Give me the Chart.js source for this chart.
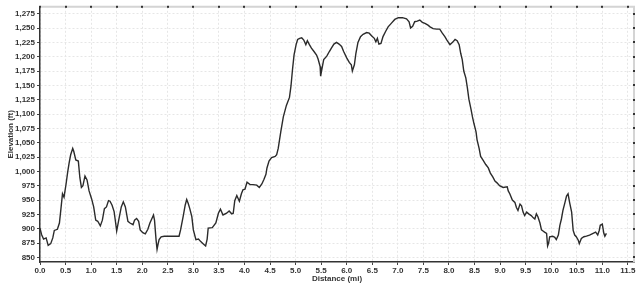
<!DOCTYPE html>
<html>
<head>
<meta charset="utf-8">
<script src="https://cdn.jsdelivr.net/npm/chart.js@4/dist/chart.umd.min.js"></script>
<style>
  html, body { margin: 0; padding: 0; background: #fff; }
</style>
</head>
<body>
<canvas id="elevationChart" width="640" height="288"></canvas>
<script>
const distanceMi = [
  0.00, 0.03, 0.07, 0.12, 0.16, 0.21, 0.25, 0.28, 0.34, 0.38, 0.41, 0.44, 0.47, 0.51, 0.54, 0.57, 0.60, 0.64, 0.66, 0.70,
  0.75, 0.78, 0.81, 0.84, 0.88, 0.92, 0.96, 1.01, 1.05, 1.09, 1.13, 1.18, 1.22, 1.26, 1.30, 1.34, 1.37, 1.41, 1.45, 1.48,
  1.50, 1.54, 1.59, 1.63, 1.67, 1.72, 1.76, 1.82, 1.85, 1.89, 1.93, 1.96, 2.01, 2.06, 2.11, 2.15, 2.19, 2.22, 2.24, 2.27,
  2.29, 2.31, 2.33, 2.37, 2.43, 2.72, 2.75, 2.80, 2.84, 2.87, 2.90, 2.93, 2.97, 3.00, 3.05, 3.10, 3.14, 3.19, 3.24, 3.27,
  3.29, 3.37, 3.44, 3.49, 3.53, 3.58, 3.65, 3.70, 3.75, 3.78, 3.81, 3.85, 3.88, 3.90, 3.94, 3.97, 4.01, 4.05, 4.11, 4.17,
  4.24, 4.29, 4.34, 4.38, 4.42, 4.44, 4.48, 4.53, 4.60, 4.63, 4.66, 4.71, 4.76, 4.82, 4.88, 4.91, 4.94, 4.97, 5.01, 5.04,
  5.08, 5.12, 5.16, 5.20, 5.23, 5.27, 5.31, 5.36, 5.41, 5.44, 5.48, 5.49, 5.52, 5.55, 5.61, 5.66, 5.70, 5.75, 5.80, 5.85,
  5.90, 5.94, 6.00, 6.05, 6.09, 6.11, 6.15, 6.18, 6.22, 6.27, 6.32, 6.39, 6.44, 6.49, 6.54, 6.57, 6.60, 6.63, 6.67, 6.71,
  6.76, 6.81, 6.88, 6.94, 7.01, 7.09, 7.17, 7.22, 7.25, 7.29, 7.33, 7.38, 7.43, 7.48, 7.53, 7.59, 7.63, 7.69, 7.76, 7.82,
  7.87, 7.92, 7.96, 8.02, 8.07, 8.12, 8.16, 8.20, 8.23, 8.26, 8.29, 8.33, 8.36, 8.39, 8.43, 8.46, 8.49, 8.53, 8.55, 8.59,
  8.62, 8.67, 8.72, 8.77, 8.81, 8.86, 8.90, 8.94, 8.99, 9.06, 9.14, 9.16, 9.19, 9.24, 9.29, 9.32, 9.35, 9.39, 9.42, 9.45,
  9.48, 9.52, 9.56, 9.61, 9.65, 9.68, 9.71, 9.74, 9.78, 9.81, 9.84, 9.87, 9.91, 9.93, 9.95, 9.97, 10.03, 10.07, 10.10, 10.14,
  10.17, 10.20, 10.23, 10.27, 10.30, 10.33, 10.36, 10.40, 10.43, 10.46, 10.49, 10.53, 10.55, 10.59, 10.64, 10.69, 10.75, 10.82, 10.87, 10.91,
  10.94, 10.96, 11.00, 11.03, 11.05, 11.08
];
const elevationFt = [
  901, 890, 882, 884, 871, 874, 884, 897, 899, 910, 935, 961, 955, 978, 998, 1015, 1029, 1040, 1035, 1020,
  1018, 989, 972, 975, 992, 985, 966, 952, 938, 915, 913, 905, 915, 935, 938, 949, 948, 941, 930, 910,
  896, 915, 938, 947, 938, 913, 910, 907, 915, 918, 913, 898, 893, 891, 899, 910, 918, 924, 915, 881,
  864, 873, 881, 886, 887, 887, 898, 921, 941, 951, 944, 935, 921, 898, 881, 882, 878, 874, 870, 882,
  901, 902, 910, 927, 934, 924, 927, 931, 926, 927, 949, 958, 952, 948, 961, 968, 969, 981, 977, 977,
  976, 972, 978, 986, 995, 1006, 1018, 1024, 1026, 1029, 1040, 1069, 1095, 1115, 1129, 1149, 1178, 1203, 1221, 1230,
  1232, 1233, 1229, 1221, 1228, 1221, 1215, 1209, 1203, 1196, 1183, 1166, 1181, 1195, 1201, 1209, 1215, 1222, 1225, 1222,
  1218, 1209, 1198, 1190, 1186, 1175, 1186, 1206, 1225, 1235, 1239, 1242, 1241, 1236, 1232, 1226, 1232, 1222, 1223, 1235,
  1244, 1252, 1259, 1265, 1268, 1268, 1266, 1261, 1250, 1253, 1261, 1262, 1264, 1260, 1258, 1255, 1252, 1249, 1248, 1248,
  1241, 1235, 1229, 1221, 1225, 1230, 1228, 1221, 1206, 1195, 1175, 1163, 1146, 1126, 1109, 1095, 1083, 1069, 1055, 1040,
  1026, 1019, 1012, 1006, 997, 990, 983, 980, 975, 972, 973, 966, 961, 950, 946, 937, 932, 943, 940, 929,
  923, 929, 926, 923, 919, 917, 926, 921, 910, 898, 896, 894, 892, 870, 875, 886, 887, 885, 881, 889,
  906, 917, 932, 946, 957, 961, 946, 929, 897, 889, 886, 880, 874, 883, 886, 887, 889, 892, 894, 889,
  897, 906, 908, 892, 887, 892
];
const xTicks = [0, 0.5, 1, 1.5, 2, 2.5, 3, 3.5, 4, 4.5, 5, 5.5, 6, 6.5, 7, 7.5, 8, 8.5, 9, 9.5, 10, 10.5, 11, 11.5];
const yTicks = [850, 875, 900, 925, 950, 975, 1000, 1025, 1050, 1075, 1100, 1125, 1150, 1175, 1200, 1225, 1250, 1275];

const tickFont = { family: 'Liberation Sans', size: 8, weight: 'bold' };

// rand boven en rechts, met kleine streepjes zoals in het origineel
const plotFrame = {
  id: 'plotFrame',
  afterDraw(chart) {
    const { ctx, chartArea: a, scales } = chart;
    ctx.save();
    ctx.strokeStyle = '#d4d4d4';
    ctx.lineWidth = 2;
    ctx.beginPath();
    ctx.moveTo(a.left, a.top);
    ctx.lineTo(a.right, a.top);
    ctx.lineTo(a.right, a.bottom);
    ctx.stroke();
    ctx.fillStyle = '#333';
    xTicks.forEach(v => {
      const px = Math.round(scales.x.getPixelForValue(v));
      ctx.fillRect(px - 1, a.top - 1, 2, 2);
    });
    yTicks.forEach(v => {
      const py = Math.round(scales.y.getPixelForValue(v));
      ctx.fillRect(a.right - 1, py - 1, 2, 2);
    });
    ctx.restore();
  }
};

new Chart(document.getElementById('elevationChart'), {
  type: 'line',
  data: {
    datasets: [{
      label: 'Elevation',
      data: distanceMi.map((d, i) => ({ x: d, y: elevationFt[i] })),
      borderColor: '#2b2b2b',
      borderWidth: 1.4,
      pointRadius: 0,
      tension: 0,
      fill: false
    }]
  },
  options: {
    responsive: false,
    animation: false,
    layout: { padding: { left: 0, right: 6, top: 3, bottom: 0 } },
    plugins: { legend: { display: false }, tooltip: { enabled: false } },
    scales: {
      x: {
        type: 'linear',
        min: 0,
        max: 11.62,
        afterBuildTicks: scale => { scale.ticks = xTicks.map(v => ({ value: v })); },
        afterFit: scale => { scale.height = 26; },
        ticks: {
          color: '#333',
          font: tickFont,
          padding: 1,
          maxRotation: 0,
          autoSkip: false,
          callback: v => Number(v).toFixed(1)
        },
        grid: { color: '#e6e6e6', tickLength: 3, tickColor: '#444' },
        border: { color: '#333', width: 1.5, dash: [2, 2] },
        title: {
          display: true,
          text: 'Distance (mi)',
          color: '#333',
          font: tickFont,
          padding: { top: 0, bottom: 4 }
        }
      },
      y: {
        min: 842,
        max: 1287,
        afterBuildTicks: scale => { scale.ticks = yTicks.map(v => ({ value: v })); },
        afterFit: scale => { scale.width = 40; },
        ticks: {
          color: '#333',
          font: tickFont,
          padding: 2,
          autoSkip: false,
          callback: v => Number(v).toLocaleString('en-US')
        },
        grid: { color: '#e6e6e6', tickLength: 3, tickColor: '#444' },
        border: { color: '#333', width: 1.5, dash: [2, 2] },
        title: {
          display: true,
          text: 'Elevation (ft)',
          color: '#333',
          font: tickFont,
          padding: { top: 6, bottom: 0 }
        }
      }
    }
  },
  plugins: [plotFrame]
});
</script>
</body>
</html>
